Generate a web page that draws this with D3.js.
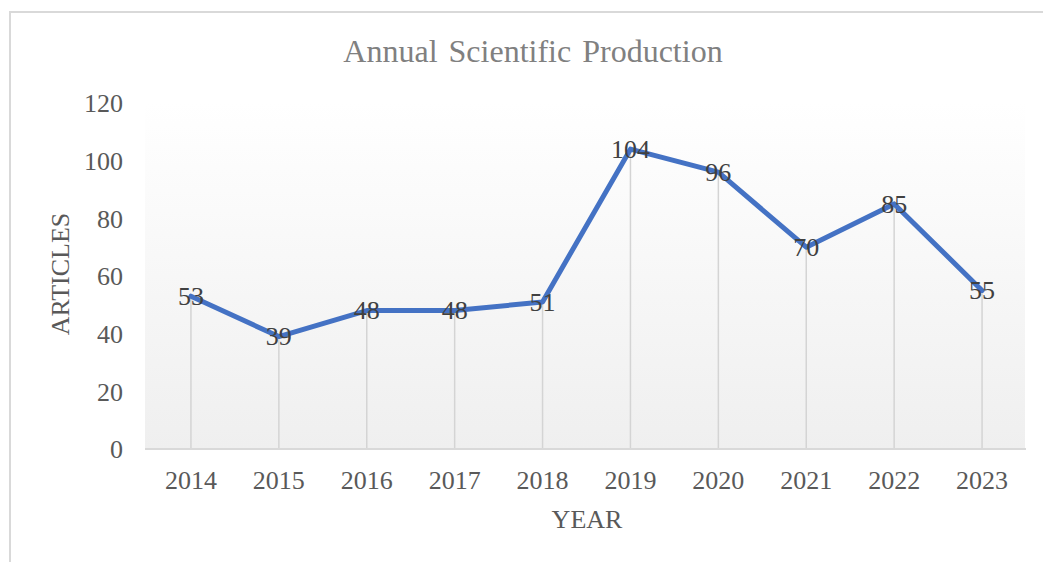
<!DOCTYPE html>
<html>
<head>
<meta charset="utf-8">
<script src="https://cdn.jsdelivr.net/npm/d3@7"></script>
<style>
  html, body { margin: 0; padding: 0; background: #ffffff; }
  svg { display: block; font-family: "Liberation Serif", "Times New Roman", serif; }
</style>
</head>
<body>
<svg id="chart" width="1043" height="562"></svg>
<script>
const years = ["2014", "2015", "2016", "2017", "2018", "2019", "2020", "2021", "2022", "2023"];
const articles = [53, 39, 48, 48, 51, 104, 96, 70, 85, 55];
const yTicks = [0, 20, 40, 60, 80, 100, 120];
const titleText = "Annual Scientific Production";
const xTitle = "YEAR";
const yTitle = "ARTICLES";

const svg = d3.select("#chart");
const W = 1043, H = 562;
const plot = { left: 147, right: 1026, top: 103, bottom: 449 };

// outer frame
svg.append("rect")
  .attr("x", 10).attr("y", 12)
  .attr("width", 1080).attr("height", 620)
  .attr("fill", "#ffffff")
  .attr("stroke", "#d9d9d9").attr("stroke-width", 2);

// gradient background
const defs = svg.append("defs");
const grad = defs.append("linearGradient").attr("id", "bg")
  .attr("x1", 0).attr("y1", 0).attr("x2", 0).attr("y2", 1);
grad.append("stop").attr("offset", "0%").attr("stop-color", "#ffffff");
grad.append("stop").attr("offset", "100%").attr("stop-color", "#efefef");

const x = d3.scaleBand().domain(years).range([plot.left, plot.right]).padding(0);
const y = d3.scaleLinear().domain([0, 120]).range([plot.bottom, plot.top]);

svg.append("rect")
  .attr("x", plot.left - 2).attr("y", plot.top)
  .attr("width", plot.right - plot.left + 1).attr("height", plot.bottom - plot.top)
  .attr("fill", "url(#bg)");

const cx = d => x(d) + x.bandwidth() / 2;

// drop lines
svg.append("g").selectAll("line")
  .data(years)
  .join("line")
  .attr("x1", d => cx(d)).attr("x2", d => cx(d))
  .attr("y1", (d, i) => y(articles[i])).attr("y2", y(0))
  .attr("stroke", "#d4d4d4").attr("stroke-width", 1.5);

// x axis
const xAxis = svg.append("g")
  .attr("transform", `translate(0,${plot.bottom})`)
  .call(d3.axisBottom(x).tickSize(0).tickPadding(0));
xAxis.select(".domain").attr("stroke", "#d9d9d9").attr("stroke-width", 2)
  .attr("d", `M${plot.left - 2},0H${plot.right}`);
xAxis.selectAll("text")
  .attr("y", 40).attr("dy", 0)
  .attr("fill", "#595959").attr("font-size", 26)
  .attr("font-family", "Liberation Serif");

// y axis
const yAxis = svg.append("g")
  .attr("transform", `translate(123,0)`)
  .call(d3.axisLeft(y).tickValues(yTicks).tickSize(0).tickPadding(0));
yAxis.select(".domain").remove();
yAxis.selectAll("text")
  .attr("x", 0).attr("dy", "0.34em")
  .attr("fill", "#595959").attr("font-size", 26)
  .attr("font-family", "Liberation Serif");

// line
const line = d3.line()
  .x((d, i) => cx(years[i]))
  .y(d => y(d));
svg.append("path")
  .datum(articles)
  .attr("d", line)
  .attr("fill", "none")
  .attr("stroke", "#4472c4")
  .attr("stroke-width", 5)
  .attr("stroke-linejoin", "round")
  .attr("stroke-linecap", "round");

// data labels
svg.append("g").selectAll("text")
  .data(articles)
  .join("text")
  .attr("x", (d, i) => cx(years[i]))
  .attr("y", d => y(d))
  .attr("dy", "0.34em")
  .attr("text-anchor", "middle")
  .attr("fill", "#404040")
  .attr("font-size", 26)
  .text(d => d);

// title
svg.append("text")
  .attr("x", 533).attr("y", 62)
  .attr("text-anchor", "middle")
  .attr("fill", "#808080")
  .attr("font-size", 32)
  .attr("word-spacing", 3)
  .text(titleText);

// axis titles
svg.append("text")
  .attr("x", 587).attr("y", 528)
  .attr("text-anchor", "middle")
  .attr("fill", "#595959")
  .attr("font-size", 26)
  .text(xTitle);

svg.append("text")
  .attr("transform", "translate(69,274) rotate(-90)")
  .attr("text-anchor", "middle")
  .attr("fill", "#595959")
  .attr("font-size", 26)
  .text(yTitle);
</script>
</body>
</html>
